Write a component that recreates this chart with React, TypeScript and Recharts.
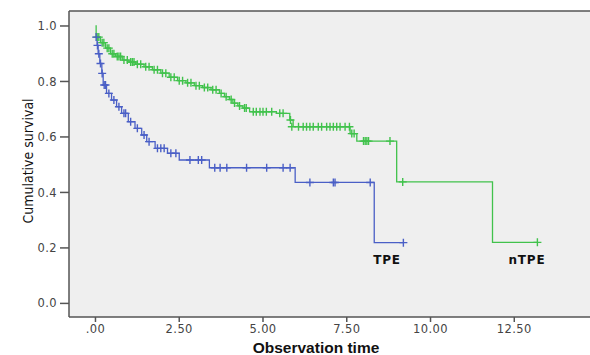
import {
  ComposedChart,
  Line,
  Scatter,
  XAxis,
  YAxis,
  CartesianGrid,
  ReferenceLine,
} from "recharts";

// step points (time, cumulative survival) - TPE group
const tpeTimes = [0, 0.05, 0.08, 0.13, 0.19, 0.23, 0.33, 0.48, 0.63, 0.78, 0.98, 1.18, 1.38, 1.53, 1.78, 2.15, 2.5, 3.4, 5.96, 8.32, 9.19];
const tpeSurv = [0.96, 0.93, 0.9, 0.865, 0.829, 0.787, 0.757, 0.733, 0.709, 0.685, 0.655, 0.631, 0.607, 0.583, 0.559, 0.541, 0.517, 0.489, 0.436, 0.219, 0.219];

const tpeCensorTimes = [0.02, 0.06, 0.1, 0.15, 0.2, 0.26, 0.3, 0.4, 0.55, 0.7, 0.85, 0.9, 1.05, 1.25, 1.45, 1.6, 1.85, 1.95, 2.05, 2.25, 2.4, 2.82, 3.07, 3.17, 3.56, 3.72, 3.92, 4.51, 5.11, 5.6, 5.81, 6.4, 7.1, 7.15, 8.2, 9.19];
const tpeCensorSurv = [0.96, 0.93, 0.9, 0.865, 0.829, 0.787, 0.787, 0.757, 0.733, 0.709, 0.685, 0.685, 0.655, 0.631, 0.607, 0.583, 0.559, 0.559, 0.559, 0.541, 0.541, 0.517, 0.517, 0.517, 0.489, 0.489, 0.489, 0.489, 0.489, 0.489, 0.489, 0.436, 0.436, 0.436, 0.436, 0.219];

// nTPE group
const ntpeTimes = [0, 0.02, 0.15, 0.3, 0.45, 0.6, 0.8, 1.0, 1.2, 1.45, 1.7, 1.95, 2.2, 2.45, 2.7, 2.95, 3.2, 3.45, 3.7, 3.85, 4.0, 4.1, 4.25, 4.4, 4.6, 5.4, 5.8, 5.9, 7.6, 7.8, 8.99, 11.85, 13.19];
const ntpeSurv = [1.0, 0.96, 0.94, 0.92, 0.9, 0.89, 0.877, 0.87, 0.862, 0.853, 0.842, 0.83, 0.815, 0.803, 0.795, 0.785, 0.778, 0.77, 0.757, 0.745, 0.735, 0.722, 0.712, 0.704, 0.691, 0.685, 0.661, 0.637, 0.612, 0.585, 0.438, 0.22, 0.22];

const ntpeCensorTimes = [0.05, 0.1, 0.2, 0.25, 0.35, 0.4, 0.5, 0.55, 0.65, 0.7, 0.75, 0.85, 0.95, 1.05, 1.1, 1.15, 1.25, 1.35, 1.5, 1.6, 1.75, 1.85, 2.0, 2.1, 2.25, 2.35, 2.5, 2.6, 2.75, 2.85, 3.0, 3.1, 3.25, 3.35, 3.5, 3.6, 3.75, 3.9, 4.05, 4.15, 4.3, 4.45, 4.5, 4.71, 4.8, 4.91, 5.0, 5.1, 5.26, 5.5, 5.6, 5.82, 5.86, 6.06, 6.2, 6.3, 6.4, 6.5, 6.65, 6.75, 6.9, 7.0, 7.1, 7.2, 7.3, 7.45, 7.58, 7.65, 7.72, 8.0, 8.05, 8.1, 8.15, 8.79, 9.17, 13.19];
const ntpeCensorSurv = [0.96, 0.96, 0.94, 0.94, 0.92, 0.92, 0.9, 0.9, 0.89, 0.89, 0.89, 0.877, 0.877, 0.87, 0.87, 0.87, 0.862, 0.862, 0.853, 0.853, 0.842, 0.842, 0.83, 0.83, 0.815, 0.815, 0.803, 0.803, 0.795, 0.795, 0.785, 0.785, 0.778, 0.778, 0.77, 0.77, 0.757, 0.745, 0.735, 0.722, 0.712, 0.704, 0.704, 0.691, 0.691, 0.691, 0.691, 0.691, 0.691, 0.685, 0.685, 0.661, 0.637, 0.637, 0.637, 0.637, 0.637, 0.637, 0.637, 0.637, 0.637, 0.637, 0.637, 0.637, 0.637, 0.637, 0.637, 0.612, 0.612, 0.585, 0.585, 0.585, 0.585, 0.585, 0.438, 0.22];

const xTicks = [0, 2.5, 5, 7.5, 10, 12.5];
const yTicks = [0, 0.2, 0.4, 0.6, 0.8, 1.0];

const GREEN = "#41c24c";
const BLUE = "#4a5fc6";
const FRAME = "#555";

const zip = (ts: number[], ss: number[]) => ts.map((t, i) => ({ t, s: ss[i] }));

const tpeLine = zip(tpeTimes, tpeSurv);
const ntpeLine = zip(ntpeTimes, ntpeSurv);
const tpeCensor = zip(tpeCensorTimes, tpeCensorSurv);
const ntpeCensor = zip(ntpeCensorTimes, ntpeCensorSurv);

function plus(color: string) {
  return (props: any) => {
    const { cx, cy } = props;
    if (cx == null || cy == null) return <g />;
    return (
      <path
        d={`M${cx - 4},${cy}H${cx + 4}M${cx},${cy - 4}V${cy + 4}`}
        stroke={color}
        strokeWidth={1.4}
        fill="none"
      />
    );
  };
}

export default function App() {
  const tickStyle = { fill: "#444", fontSize: 11.5, fontFamily: "DejaVu Sans", letterSpacing: 0.4 };
  return (
    <div style={{ position: "absolute", left: 0, top: 0, width: 590, height: 355, background: "#fff" }}>
      <ComposedChart width={590} height={355} margin={{ top: 11, right: 0, bottom: 0, left: 0 }}>
        <CartesianGrid fill="#efefef" stroke="none" horizontal={false} vertical={false} />
        <XAxis
          type="number"
          dataKey="t"
          domain={[-0.79, 14.76]}
          ticks={xTicks}
          allowDataOverflow
          height={38}
          tickFormatter={(v: number) => (v === 0 ? ".00" : v.toFixed(2))}
          tick={tickStyle}
          tickSize={5}
          tickMargin={3}
          axisLine={{ stroke: FRAME, strokeWidth: 1.5 }}
          tickLine={{ stroke: FRAME, strokeWidth: 1.5 }}
        />
        <YAxis
          type="number"
          dataKey="s"
          domain={[-0.049, 1.054]}
          ticks={yTicks}
          allowDataOverflow
          width={69}
          tickFormatter={(v: number) => v.toFixed(1)}
          tick={tickStyle}
          tickSize={9}
          tickMargin={3}
          axisLine={{ stroke: FRAME, strokeWidth: 1.5 }}
          tickLine={{ stroke: FRAME, strokeWidth: 1.5 }}
        />
        <ReferenceLine y={1.054} stroke={FRAME} strokeWidth={1.5} ifOverflow="visible" />
        <Line data={ntpeLine} dataKey="s" type="stepAfter" stroke={GREEN} strokeWidth={1.3} dot={false} isAnimationActive={false} />
        <Line data={tpeLine} dataKey="s" type="stepAfter" stroke={BLUE} strokeWidth={1.3} dot={false} isAnimationActive={false} />
        <Scatter data={ntpeCensor} dataKey="s" shape={plus(GREEN)} isAnimationActive={false} />
        <Scatter data={tpeCensor} dataKey="s" shape={plus(BLUE)} isAnimationActive={false} />
      </ComposedChart>
      <svg width={590} height={355} style={{ position: "absolute", left: 0, top: 0, pointerEvents: "none" }}>
        <text
          x={28}
          y={161}
          transform="rotate(-90 28 161)"
          textAnchor="middle"
          dominantBaseline="central"
          fontFamily="'Liberation Sans Narrow', 'DejaVu Sans Condensed', sans-serif"
          fontSize={14}
          fill="#111"
        >
          Cumulative survival
        </text>
        <text x={316} y={353} textAnchor="middle" fontFamily="'Liberation Sans', Arial, sans-serif" fontWeight="bold" fontSize={15.5} fill="#111">
          Observation time
        </text>
        <text x={387} y={264} textAnchor="middle" fontFamily="'DejaVu Sans', sans-serif" fontWeight="bold" fontSize={12} letterSpacing={0.8} fill="#111">
          TPE
        </text>
        <text x={527} y={264} textAnchor="middle" fontFamily="'DejaVu Sans', sans-serif" fontWeight="bold" fontSize={12} letterSpacing={0.8} fill="#111">
          nTPE
        </text>
      </svg>
    </div>
  );
}
